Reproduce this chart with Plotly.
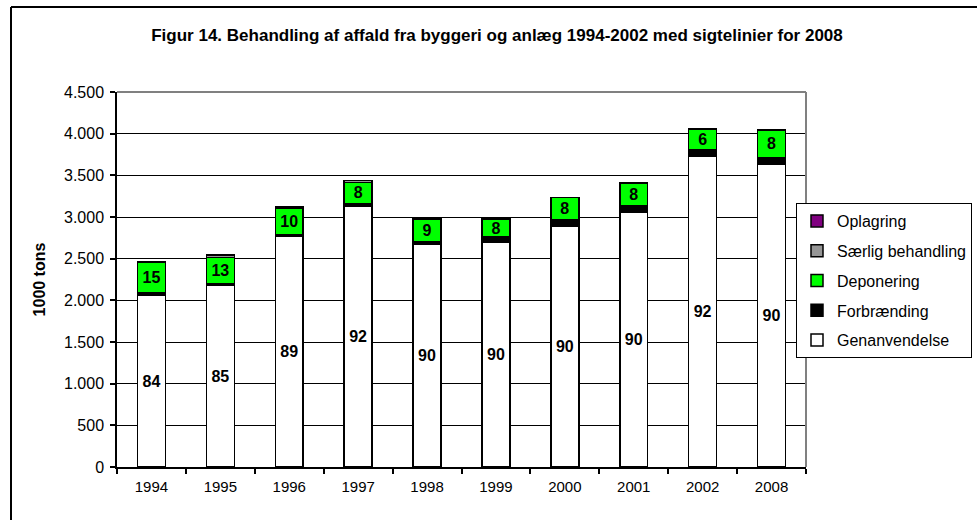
import plotly.graph_objects as go

years = ["1994", "1995", "1996", "1997", "1998", "1999", "2000", "2001", "2002", "2008"]
genanvendelse = [2060, 2180, 2770, 3130, 2676, 2700, 2892, 3060, 3732, 3636]
forbraending = [30, 15, 20, 35, 30, 60, 75, 80, 80, 80]
deponering = [370, 320, 320, 250, 264, 216, 265, 264, 240, 324]
saerlig = [0, 30, 10, 25, 5, 0, 5, 5, 5, 5]
oplagring = [0, 0, 0, 0, 0, 0, 0, 0, 0, 0]
gen_pct = ["84", "85", "89", "92", "90", "90", "90", "90", "92", "90"]
dep_pct = ["15", "13", "10", "8", "9", "8", "8", "8", "6", "8"]

FONT = "Liberation Sans, Arial, sans-serif"
line = dict(color="black", width=1.5)
lbl_font = dict(family=FONT, size=16, color="black", weight="bold")

fig = go.Figure()
fig.add_trace(go.Bar(name="Genanvendelse", x=years, y=genanvendelse, legendgroup="g", legendrank=5,
                     marker=dict(color="white", line=line),
                     text=gen_pct, textposition="inside", insidetextanchor="middle",
                     textangle=0, constraintext="none", textfont=lbl_font))
fig.add_trace(go.Bar(name="Forbrænding", x=years, y=forbraending, legendgroup="f", legendrank=4,
                     marker=dict(color="black", line=line)))
fig.add_trace(go.Bar(name="Deponering", x=years, y=deponering, legendgroup="d", legendrank=3,
                     marker=dict(color="#00FF00", line=line),
                     text=dep_pct, textposition="inside", insidetextanchor="middle",
                     textangle=0, constraintext="none", textfont=lbl_font))
fig.add_trace(go.Bar(name="Særlig behandling", x=years, y=saerlig, legendgroup="s", legendrank=2,
                     marker=dict(color="#969696", line=line)))
fig.add_trace(go.Bar(name="Oplagring", x=years, y=oplagring, legendgroup="o", legendrank=1,
                     marker=dict(color="#800080", line=line)))

L, R, T, B = 117, 171, 92, 53
W, H = 977, 520
pw, ph = W - L - R, H - T - B

fig.update_layout(
    width=W, height=H,
    margin=dict(l=L, r=R, t=T, b=B, pad=0, autoexpand=False),
    barmode="stack", bargap=0.594,
    paper_bgcolor="white", plot_bgcolor="white",
    font=dict(family=FONT, size=16, color="black"),
    separators=",.",
    hovermode=False,
    uniformtext=dict(minsize=16, mode="show"),
    title=dict(text="<b>Figur 14. Behandling af affald fra byggeri og anlæg 1994-2002 med sigtelinier for 2008</b>",
               x=497 / W, xanchor="center", xref="container", y=1 - 35 / H, yanchor="middle",
               font=dict(family=FONT, size=17, color="black")),
    legend=dict(traceorder="grouped", tracegroupgap=6,
                x=(796 - L) / pw, xanchor="left",
                y=(H - B - 203) / ph, yanchor="top",
                bordercolor="black", borderwidth=1, bgcolor="white",
                font=dict(family=FONT, size=16, color="black")),
    xaxis=dict(showline=True, linecolor="black", linewidth=1.5, ticks="outside",
               tickson="boundaries", ticklen=5, tickcolor="black", tickwidth=1.5,
               showgrid=False, tickfont=dict(size=15), ticklabelstandoff=5),
    yaxis=dict(range=[0, 4500], dtick=500, tickformat=",d", showline=True,
               linecolor="black", linewidth=1.5, ticks="outside", ticklen=5,
               tickcolor="black", tickwidth=1.5, showgrid=True, gridcolor="black",
               gridwidth=1, zeroline=False, ticklabelstandoff=3,
               title=dict(text="<b>1000 tons</b>", standoff=14, font=dict(size=16))),
    shapes=[
        dict(type="line", xref="paper", yref="paper", x0=0, x1=1, y0=1, y1=1,
             line=dict(color="#808080", width=2), layer="above"),
        dict(type="line", xref="paper", yref="paper", x0=1, x1=1, y0=0, y1=1,
             line=dict(color="#808080", width=2), layer="above"),
        dict(type="line", xref="paper", yref="paper", x0=(11 - L) / pw, x1=1.5,
             y0=(H - B - 7) / ph, y1=(H - B - 7) / ph, line=dict(color="black", width=2)),
        dict(type="line", xref="paper", yref="paper", x0=(11 - L) / pw, x1=(11 - L) / pw,
             y0=-0.5, y1=(H - B - 7) / ph, line=dict(color="black", width=2)),
    ],
)

fig.write_html("out.html", config={"displayModeBar": False},
               post_script="document.body.style.margin='0';")
